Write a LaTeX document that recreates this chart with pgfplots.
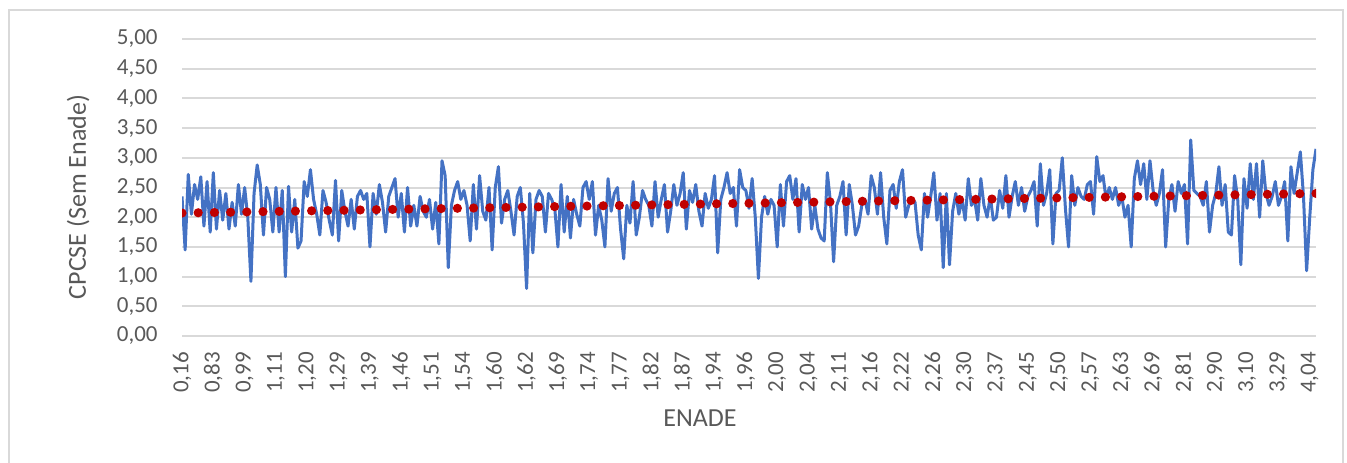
\documentclass[border=0pt]{standalone}
\usepackage{fontspec}
\setmainfont{Carlito}
\usepackage{pgfplots}
\pgfplotsset{compat=1.18}
\usepackage{pgfplotstable}
\definecolor{excelblue}{HTML}{4472C4}
\definecolor{trendred}{HTML}{C00000}
\definecolor{gridgray}{HTML}{D9D9D9}
\definecolor{txtgray}{HTML}{595959}
\pgfplotstableread[row sep=\\]{
y\\
2.35\\ 1.45\\ 2.72\\ 2.05\\ 2.55\\ 2.30\\ 2.68\\ 1.85\\ 2.60\\ 1.75\\
2.75\\ 1.80\\ 2.45\\ 1.95\\ 2.40\\ 1.80\\ 2.25\\ 1.85\\ 2.55\\ 2.05\\
2.50\\ 2.00\\ 0.92\\ 2.40\\ 2.88\\ 2.55\\ 1.70\\ 2.50\\ 2.30\\ 1.75\\
2.50\\ 1.75\\ 2.45\\ 1.00\\ 2.52\\ 1.75\\ 2.30\\ 1.48\\ 1.60\\ 2.60\\
2.35\\ 2.80\\ 2.30\\ 2.05\\ 1.70\\ 2.45\\ 2.25\\ 1.95\\ 1.70\\ 2.62\\
1.60\\ 2.45\\ 2.10\\ 1.85\\ 2.30\\ 1.80\\ 2.35\\ 2.45\\ 2.30\\ 2.40\\
1.50\\ 2.40\\ 2.05\\ 2.55\\ 2.25\\ 1.75\\ 2.35\\ 2.50\\ 2.65\\ 2.00\\
2.40\\ 1.75\\ 2.50\\ 1.85\\ 2.20\\ 1.85\\ 2.35\\ 2.10\\ 2.00\\ 2.30\\
1.80\\ 2.25\\ 1.55\\ 2.95\\ 2.70\\ 1.15\\ 2.20\\ 2.45\\ 2.60\\ 2.30\\
2.45\\ 2.20\\ 1.60\\ 2.55\\ 1.80\\ 2.70\\ 2.10\\ 1.95\\ 2.50\\ 1.45\\
2.50\\ 2.85\\ 1.90\\ 2.30\\ 2.45\\ 2.10\\ 1.70\\ 2.35\\ 2.50\\ 1.90\\
0.80\\ 2.40\\ 1.40\\ 2.30\\ 2.45\\ 2.35\\ 1.75\\ 2.40\\ 2.30\\ 2.15\\
1.50\\ 2.55\\ 1.75\\ 2.35\\ 1.65\\ 2.30\\ 2.05\\ 1.85\\ 2.50\\ 2.60\\
2.30\\ 2.60\\ 1.70\\ 2.20\\ 1.95\\ 1.50\\ 2.65\\ 2.10\\ 2.40\\ 2.50\\
1.80\\ 1.30\\ 2.20\\ 1.90\\ 2.60\\ 1.70\\ 2.00\\ 2.45\\ 2.30\\ 2.20\\
1.85\\ 2.60\\ 2.00\\ 2.30\\ 2.55\\ 1.75\\ 2.10\\ 2.55\\ 2.20\\ 2.40\\
2.75\\ 1.80\\ 2.45\\ 2.25\\ 2.55\\ 2.10\\ 1.85\\ 2.40\\ 2.15\\ 2.30\\
2.70\\ 1.40\\ 2.30\\ 2.50\\ 2.75\\ 2.40\\ 2.50\\ 1.85\\ 2.80\\ 2.50\\
2.45\\ 2.15\\ 2.65\\ 2.00\\ 0.97\\ 2.00\\ 2.35\\ 2.05\\ 2.30\\ 2.20\\
1.50\\ 2.55\\ 1.85\\ 2.60\\ 2.70\\ 2.30\\ 2.65\\ 1.75\\ 2.55\\ 2.30\\
2.50\\ 1.80\\ 2.20\\ 1.80\\ 1.65\\ 1.60\\ 2.75\\ 2.25\\ 1.25\\ 2.20\\
2.35\\ 2.60\\ 1.70\\ 2.55\\ 2.20\\ 1.70\\ 1.85\\ 2.20\\ 2.30\\ 2.05\\
2.70\\ 2.50\\ 2.05\\ 2.75\\ 2.00\\ 1.55\\ 2.45\\ 2.55\\ 2.15\\ 2.60\\
2.80\\ 2.00\\ 2.20\\ 2.30\\ 2.25\\ 1.70\\ 1.45\\ 2.40\\ 2.00\\ 2.35\\
2.75\\ 1.95\\ 2.40\\ 1.15\\ 2.40\\ 1.20\\ 2.10\\ 2.40\\ 2.05\\ 2.30\\
1.95\\ 2.65\\ 2.20\\ 2.30\\ 1.95\\ 2.65\\ 2.20\\ 2.00\\ 2.35\\ 1.95\\
2.00\\ 2.45\\ 2.15\\ 2.70\\ 2.00\\ 2.35\\ 2.60\\ 2.20\\ 2.50\\ 2.10\\
2.35\\ 2.45\\ 2.60\\ 1.85\\ 2.90\\ 2.20\\ 2.40\\ 2.80\\ 1.55\\ 2.40\\
2.45\\ 3.00\\ 2.15\\ 1.50\\ 2.70\\ 2.20\\ 2.50\\ 2.35\\ 2.30\\ 2.55\\
2.60\\ 2.05\\ 3.02\\ 2.60\\ 2.70\\ 2.30\\ 2.50\\ 2.30\\ 2.50\\ 2.20\\
2.35\\ 2.00\\ 2.20\\ 1.50\\ 2.65\\ 2.95\\ 2.55\\ 2.90\\ 2.30\\ 2.95\\
2.45\\ 2.20\\ 2.40\\ 2.80\\ 1.50\\ 2.30\\ 2.55\\ 2.10\\ 2.60\\ 2.40\\
2.55\\ 1.55\\ 3.30\\ 2.45\\ 2.40\\ 2.35\\ 2.20\\ 2.60\\ 1.75\\ 2.20\\
2.40\\ 2.85\\ 2.20\\ 2.55\\ 1.75\\ 1.70\\ 2.70\\ 2.30\\ 1.20\\ 2.65\\
2.15\\ 2.90\\ 2.30\\ 2.90\\ 2.00\\ 2.95\\ 2.40\\ 2.20\\ 2.35\\ 2.60\\
2.20\\ 2.35\\ 2.60\\ 1.60\\ 2.85\\ 2.40\\ 2.75\\ 3.10\\ 2.35\\ 1.10\\
2.00\\ 2.80\\ 3.15\\
}\cpcse

\begin{document}
\begin{tikzpicture}
\useasboundingbox (0,0) rectangle (673.5pt,231pt);
\draw[gridgray, line width=0.75pt] (4.5pt,-5pt) -- (4.5pt,226pt) -- (671.5pt,226pt) -- (671.5pt,-5pt);
\begin{axis}[
  scale only axis, width=567pt, height=148.5pt,
  at={(91pt,63pt)}, anchor=south west,
  xmin=0, xmax=362, ymin=0, ymax=5,
  axis line style={draw=none},
  major tick length=0pt,
  ymajorgrids, grid style={gridgray, line width=1pt},
  ytick={0,0.5,1,1.5,2,2.5,3,3.5,4,4.5,5},
  xtick={0,10,...,360},
  xticklabels={{0,16},{0,83},{0,99},{1,11},{1,20},{1,29},{1,39},{1,46},{1,51},{1,54},{1,60},{1,62},{1,69},{1,74},{1,77},{1,82},{1,87},{1,94},{1,96},{2,00},{2,04},{2,11},{2,16},{2,22},{2,26},{2,30},{2,37},{2,45},{2,50},{2,57},{2,63},{2,69},{2,81},{2,90},{3,10},{3,29},{4,04}},
  /pgf/number format/assume math mode=true,
  ticklabel style={font=\fontsize{11.5pt}{13pt}\selectfont, text=txtgray, inner sep=0pt},
  yticklabel style={/pgf/number format/use comma, /pgf/number format/fixed, /pgf/number format/fixed zerofill, /pgf/number format/precision=2, anchor=east, xshift=-12pt},
  xticklabel style={rotate=90, anchor=east, xshift=-7.8pt},
  xlabel={ENADE},
  ylabel={CPCSE (Sem Enade)},
  label style={font=\fontsize{13pt}{15pt}\selectfont, text=txtgray, inner sep=0pt},
  xlabel style={at={(axis description cs:0.4568,-0.3054)}, anchor=base},
  ylabel style={at={(axis description cs:-0.0847,0.468)}, anchor=base},
]
\addplot[excelblue, line width=1.5pt, line join=round, mark=none] table[x expr=\coordindex, y=y] {\cpcse};
\addplot[trendred, line width=4.6pt, line cap=round, dash pattern=on 0pt off 8.101pt, mark=none] coordinates {(0,2.07) (362,2.40)};
\end{axis}
\end{tikzpicture}
\end{document}
